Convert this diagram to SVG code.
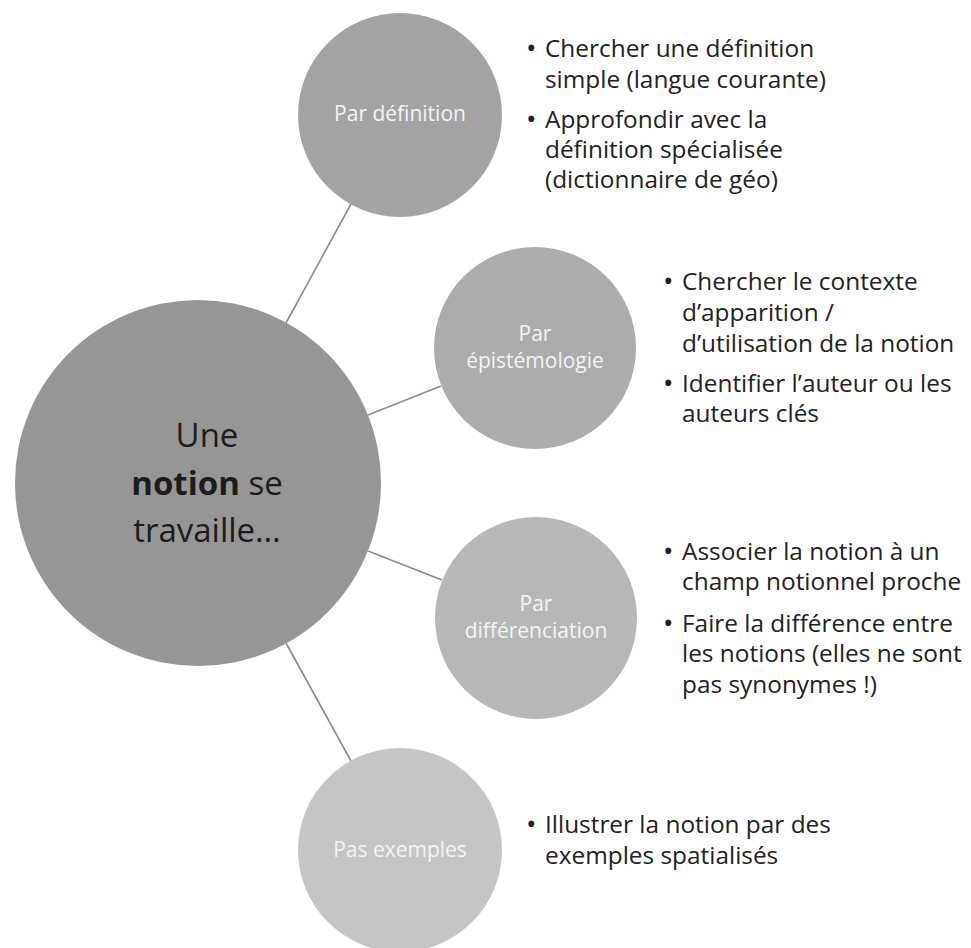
<svg xmlns="http://www.w3.org/2000/svg" width="971" height="948" viewBox="0 0 971 948">
<style>
.conn{stroke:#8c8c8c;stroke-width:1.6;fill:none}
.lbl{font-family:"Open Sans","Noto Sans",sans-serif;font-size:21px;fill:#f4f4f4;text-anchor:middle}
.main{font-family:"Open Sans","Noto Sans",sans-serif;font-size:33px;fill:#1c1c1c;text-anchor:middle}
.txt{font-family:"Open Sans","Noto Sans",sans-serif;font-size:24.4px;fill:#222222}
.bul{font-family:"Open Sans","Noto Sans",sans-serif;font-size:28px;fill:#222222}
</style>
<rect width="971" height="948" fill="#ffffff"/>
<g id="connectors">
<line class="conn" x1="286" y1="323" x2="351" y2="204"/>
<line class="conn" x1="368" y1="415" x2="441" y2="386"/>
<line class="conn" x1="368" y1="551" x2="442" y2="580"/>
<line class="conn" x1="286" y1="643" x2="351" y2="761"/>
</g>
<g id="main">
<circle cx="198" cy="483" r="183" fill="#969696"/>
<text class="main" x="207" y="447">Une</text>
<text class="main" x="207" y="495"><tspan font-weight="bold">notion</tspan> se</text>
<text class="main" x="207" y="542">travaille…</text>
</g>
<g id="par-definition">
<circle cx="400" cy="115" r="102" fill="#a3a3a3"/>
<text class="lbl" x="400" y="121">Par définition</text>
</g>
<g id="par-epistemologie">
<circle cx="535" cy="348" r="101" fill="#acacac"/>
<text class="lbl" x="535" y="341">Par</text>
<text class="lbl" x="535" y="368">épistémologie</text>
</g>
<g id="par-differenciation">
<circle cx="536" cy="618" r="101" fill="#b7b7b7"/>
<text class="lbl" x="536" y="611">Par</text>
<text class="lbl" x="536" y="638">différenciation</text>
</g>
<g id="pas-exemples">
<circle cx="400" cy="850" r="102" fill="#c5c5c5"/>
<text class="lbl" x="400" y="857">Pas exemples</text>
</g>
<g id="text-definition">
<text class="bul" x="526" y="58">•</text>
<text class="txt" x="545" y="57">Chercher une définition</text>
<text class="txt" x="545" y="88">simple (langue courante)</text>
<text class="bul" x="526" y="129">•</text>
<text class="txt" x="545" y="128">Approfondir avec la</text>
<text class="txt" x="545" y="158">définition spécialisée</text>
<text class="txt" x="545" y="188">(dictionnaire de géo)</text>
</g>
<g id="text-epistemologie">
<text class="bul" x="663" y="291">•</text>
<text class="txt" x="682" y="290">Chercher le contexte</text>
<text class="txt" x="682" y="321">d’apparition /</text>
<text class="txt" x="682" y="352">d’utilisation de la notion</text>
<text class="bul" x="663" y="393">•</text>
<text class="txt" x="682" y="392">Identifier l’auteur ou les</text>
<text class="txt" x="682" y="422">auteurs clés</text>
</g>
<g id="text-differenciation">
<text class="bul" x="663" y="561">•</text>
<text class="txt" x="682" y="560">Associer la notion à un</text>
<text class="txt" x="682" y="590">champ notionnel proche</text>
<text class="bul" x="663" y="633">•</text>
<text class="txt" x="682" y="632">Faire la différence entre</text>
<text class="txt" x="682" y="662">les notions (elles ne sont</text>
<text class="txt" x="682" y="693">pas synonymes !)</text>
</g>
<g id="text-exemples">
<text class="bul" x="526" y="834">•</text>
<text class="txt" x="545" y="833">Illustrer la notion par des</text>
<text class="txt" x="545" y="864">exemples spatialisés</text>
</g>
</svg>
